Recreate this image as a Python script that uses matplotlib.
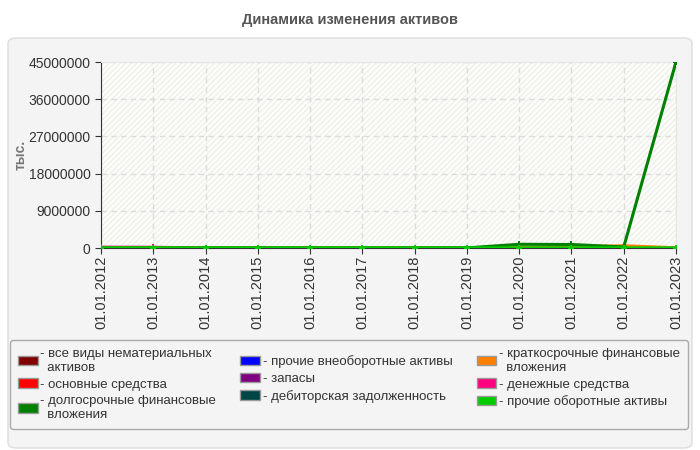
import matplotlib.pyplot as plt
from matplotlib.patches import FancyBboxPatch, Patch
from matplotlib.ticker import FixedLocator

plt.rcParams['font.family'] = ['Liberation Sans', 'DejaVu Sans']

# Data
dates = ['01.01.2012', '01.01.2013', '01.01.2014', '01.01.2015', '01.01.2016', '01.01.2017',
         '01.01.2018', '01.01.2019', '01.01.2020', '01.01.2021', '01.01.2022', '01.01.2023']
intangible = [0, 0, 0, 0, 0, 0, 0, 0, 0, 0, 0, 0]
fixed_assets = [0, 0, 0, 0, 0, 0, 0, 0, 0, 0, 0, 0]
long_fin = [0, 0, 0, 0, 0, 0, 0, 30000, 900000, 850000, 250000, 45000000]
other_noncurrent = [0, 0, 0, 0, -30000, -30000, -30000, -30000, 0, 0, -30000, -30000]
inventory = [0, 0, 0, 0, 0, 0, 0, 0, 0, 0, 0, 0]
receivables = [0, 0, 0, 0, 0, 0, 0, 0, 0, 0, 0, 0]
short_fin = [0, 0, 0, 0, 0, 0, 0, 0, 150000, 250000, 550000, 60000]
cash = [200000, 180000, 20000, 20000, 0, 0, 0, 0, 0, 0, 0, 0]
other_current = [30000, 40000, 40000, 40000, 40000, 40000, 40000, 40000, 40000, 40000, 40000, 40000]

series = [
    ('все виды нематериальных\n  активов', intangible, '#800000'),
    ('основные средства', fixed_assets, '#ff0000'),
    ('долгосрочные финансовые\n  вложения', long_fin, '#008000'),
    ('прочие внеоборотные активы', other_noncurrent, '#0000ff'),
    ('запасы', inventory, '#800080'),
    ('дебиторская задолженность', receivables, '#004545'),
    ('краткосрочные финансовые\n  вложения', short_fin, '#ff8000'),
    ('денежные средства', cash, '#ff0080'),
    ('прочие оборотные активы', other_current, '#00cc00'),
]
draw_order = [0, 1, 3, 4, 5, 7, 6, 2, 8]

fig = plt.figure(figsize=(7, 4.5), dpi=100)
fig.patch.set_facecolor('white')

# panel background
fig.patches.append(FancyBboxPatch((8 / 700, 2 / 450), 684 / 700, 410 / 450,
                                  boxstyle='round,pad=0,rounding_size=0.012',
                                  transform=fig.transFigure, facecolor='#f4f4f4',
                                  edgecolor='#dddddd', linewidth=1, zorder=-10))

fig.text(0.5, 1 - 20 / 450, 'Динамика изменения активов', ha='center', va='center',
         fontsize=10.5, fontweight='bold', color='#555555')

ax = fig.add_axes([101 / 700, 1 - 248 / 450, 575 / 700, 186 / 450])
ax.set_facecolor('#fefef8')
ax.patch.set_hatch('//////')
ax.patch.set_edgecolor('#eeeeee')
ax.patch.set_linewidth(0)

x = list(range(len(dates)))
for i in draw_order:
    name, vals, color = series[i]
    ax.plot(x, vals, color=color, linewidth=2.2, marker='P', markersize=4,
            markeredgewidth=0, zorder=3 + draw_order.index(i) * 0.1)

ax.set_xlim(0, len(dates) - 1)
ax.set_ylim(0, 45000000)
ax.yaxis.set_major_locator(FixedLocator([0, 9000000, 18000000, 27000000, 36000000, 45000000]))
ax.set_yticklabels(['0', '9000000', '18000000', '27000000', '36000000', '45000000'], fontsize=10)
ax.set_xticks(x)
ax.set_xticklabels(dates, rotation=90, fontsize=10.5)
ax.grid(True, linestyle=(0, (4, 3)), color='#dcdcdc', linewidth=1)
ax.set_axisbelow(True)
for side in ['top', 'right']:
    ax.spines[side].set_color('#e6e6e6')
ax.spines['left'].set_color('#333333')
ax.spines['bottom'].set_color('#333333')
ax.tick_params(colors='#333333', length=4)
ax.tick_params(axis='x', pad=1.5)
ax.set_ylabel('тыс.', fontsize=10, fontweight='bold', color='#777777')
ax.yaxis.set_label_coords(-0.128, 0.5)

handles = [Patch(facecolor=c, edgecolor='#999999', label='- ' + n) for n, v, c in series]
leg = fig.legend(handles=handles, loc='upper left', ncol=3, mode='expand',
                 bbox_to_anchor=(10 / 700, 1 - 433 / 450, 678 / 700, 93 / 450),
                 fontsize=9.5, frameon=True, fancybox=True, handlelength=1.5,
                 handleheight=0.7, handletextpad=0.2, labelspacing=0.35,
                 borderpad=0.6, columnspacing=1.0, borderaxespad=0)
leg.get_frame().set_facecolor('#f4f4f4')
leg.get_frame().set_edgecolor('#aaaaaa')
leg.get_frame().set_alpha(1)
for t in leg.get_texts():
    t.set_color('#333333')

fig.savefig('out.png', dpi=100)
